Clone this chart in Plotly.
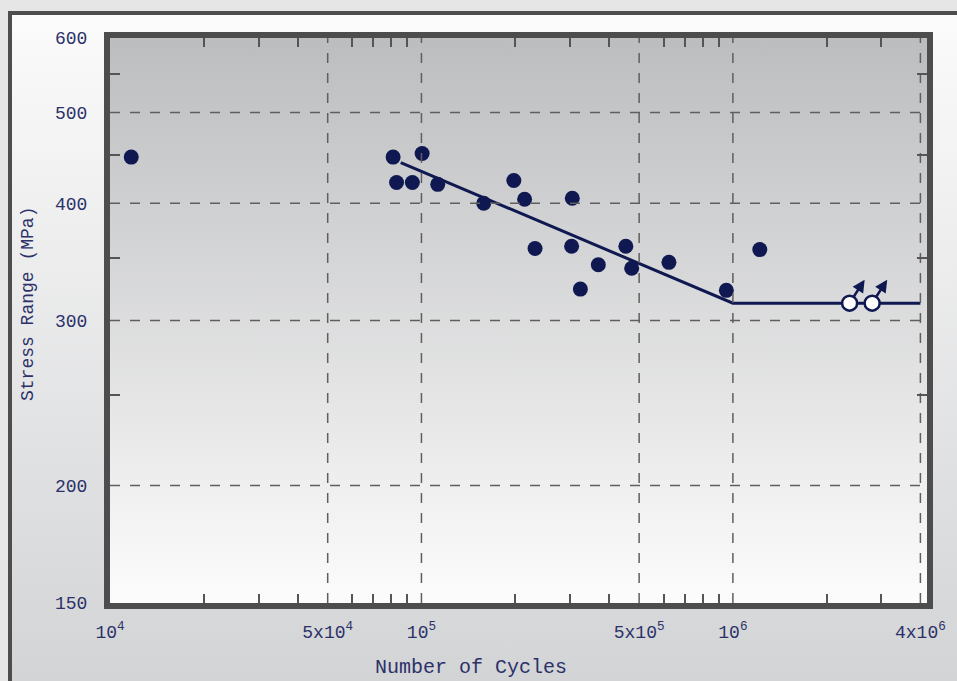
import base64
import math
import plotly.graph_objects as go

# ---- fatigue test results -------------------------------------------------
cycles = [11700, 81100, 83200, 93500, 100500, 112800, 158500, 198000, 214400,
          231600, 305000, 303500, 323800, 369700, 453200, 473200, 623200,
          952800, 1220000]
stress = [448, 448, 421, 421, 452, 419, 400, 423, 404,
          358, 405, 360, 324, 344, 360, 341, 346,
          323, 357]

# run-outs (specimens that did not fail)
runout_cycles = [2370000, 2800000]
runout_stress = [313, 313]

# design S-N curve with endurance plateau
curve_cycles = [85800, 1000000, 4000000]
curve_stress = [442, 313, 313]

# axis ticks
x_tickvals = [1e4, 5e4, 1e5, 5e5, 1e6, 4e6]
x_ticktext = ["10<sup>4</sup>", "5x10<sup>4</sup>", "10<sup>5</sup>",
              "5x10<sup>5</sup>", "10<sup>6</sup>", "4x10<sup>6</sup>"]
x_minor = [2e4, 3e4, 4e4, 6e4, 7e4, 8e4, 9e4, 2e5, 3e5, 4e5, 6e5, 7e5, 8e5,
           9e5, 2e6, 3e6]
x_grid = [5e4, 1e5, 5e5, 1e6, 4e6]
y_tickvals = [150, 200, 300, 400, 500, 600]
y_minor = [250, 350, 450, 550]
y_grid = [200, 300, 400, 500]

X_MIN, X_MAX = 1e4, 4.2e6
Y_MIN, Y_MAX = 149.9, 600.2

NAVY = "#0f1850"
TEXT = "#2b3169"
FRAME = "#4d4d4d"
FONT = "Liberation Mono"

W, H = 957, 681
L, R, T, B = 110, 30, 38, 78
PW, PH = W - L - R, H - T - B


def px_x(px):
    return (px - L) / PW


def px_y(py):
    return (H - B - py) / PH


def gradient_uri(top, bottom):
    svg = ('<svg xmlns="http://www.w3.org/2000/svg" width="100" height="100" '
           'preserveAspectRatio="none"><defs><linearGradient id="g" x1="0" '
           'y1="0" x2="0" y2="1"><stop offset="0" stop-color="%s"/>'
           '<stop offset="1" stop-color="%s"/></linearGradient></defs>'
           '<rect width="100" height="100" fill="url(#g)"/></svg>') % (top, bottom)
    return "data:image/svg+xml;base64," + base64.b64encode(svg.encode()).decode()


fig = go.Figure()

fig.add_trace(go.Scatter(
    x=curve_cycles, y=curve_stress, mode="lines",
    line=dict(color=NAVY, width=3), hoverinfo="skip", showlegend=False))

fig.add_trace(go.Scatter(
    x=cycles, y=stress, mode="markers",
    marker=dict(color=NAVY, size=15, line=dict(width=0)),
    showlegend=False))

fig.add_trace(go.Scatter(
    x=runout_cycles, y=runout_stress, mode="markers",
    marker=dict(color="white", size=15, line=dict(color=NAVY, width=2.5)),
    showlegend=False))

# dashed grid drawn over the data
for gx in x_grid:
    fig.add_trace(go.Scatter(
        x=[gx, gx], y=[Y_MIN, Y_MAX], mode="lines",
        line=dict(color="#5f5f5f", width=1.5, dash="10px,10px"),
        hoverinfo="skip", showlegend=False))
for gy in y_grid:
    fig.add_trace(go.Scatter(
        x=[X_MIN, X_MAX], y=[gy, gy], mode="lines",
        line=dict(color="#5f5f5f", width=1.5, dash="10px,10px"),
        hoverinfo="skip", showlegend=False))

# run-out arrows pointing away from each open marker
for rx, ry in zip(runout_cycles, runout_stress):
    fig.add_annotation(
        x=math.log10(rx), y=math.log10(ry), xref="x", yref="y",
        text="", showarrow=True, ax=16, ay=-25, axref="pixel", ayref="pixel",
        arrowside="start", startarrowhead=2, startarrowsize=1.0,
        arrowwidth=2.5, arrowcolor=NAVY, standoff=7)

axis_common = dict(
    type="log", showgrid=False, zeroline=False, ticks="",
    showline=True, linewidth=6, linecolor=FRAME, mirror="allticks",
    tickfont=dict(family=FONT, size=18, color=TEXT),
)

fig.update_xaxes(
    **axis_common,
    range=[math.log10(X_MIN), math.log10(X_MAX)],
    tickmode="array", tickvals=x_tickvals, ticktext=x_ticktext,
    ticklabelstandoff=7,
    minor=dict(tickmode="array", tickvals=x_minor, ticks="inside",
               ticklen=9, tickwidth=2, tickcolor="#555555", showgrid=False),
)
fig.update_yaxes(
    **axis_common,
    range=[math.log10(Y_MIN), math.log10(Y_MAX)],
    tickmode="array", tickvals=y_tickvals,
    ticktext=[str(v) for v in y_tickvals],
    ticklabelstandoff=13,
    minor=dict(tickmode="array", tickvals=y_minor, ticks="inside",
               ticklen=10, tickwidth=2, tickcolor="#555555", showgrid=False),
)

# outer panel and plot-area shading
fig.add_layout_image(
    source=gradient_uri("#fbfbfb", "#d3d4d6"), xref="paper", yref="paper",
    x=px_x(10), y=px_y(13), sizex=(1000 - 10) / PW, sizey=(H - 13) / PH,
    xanchor="left", yanchor="top", sizing="stretch", layer="below")
fig.add_layout_image(
    source=gradient_uri("#bcbdbf", "#fcfcfc"), xref="paper", yref="paper",
    x=0, y=1, sizex=1, sizey=1, xanchor="left", yanchor="top",
    sizing="stretch", layer="below")
fig.add_shape(
    type="rect", xref="paper", yref="paper",
    x0=px_x(10), x1=px_x(1000), y0=px_y(13), y1=px_y(H + 40),
    line=dict(color=FRAME, width=4), fillcolor="rgba(0,0,0,0)", layer="below")

fig.add_annotation(
    text="Number of Cycles", xref="paper", yref="paper",
    x=px_x(471), y=px_y(667), xanchor="center", yanchor="middle",
    showarrow=False, font=dict(family=FONT, size=20, color=TEXT))
fig.add_annotation(
    text="Stress Range (MPa)", xref="paper", yref="paper",
    x=px_x(28), y=px_y(304), xanchor="center", yanchor="middle",
    showarrow=False, textangle=-90,
    font=dict(family=FONT, size=18, color=TEXT))

fig.update_layout(
    width=W, height=H, autosize=False,
    margin=dict(l=L, r=R, t=T, b=B),
    paper_bgcolor="#e6e6e6", plot_bgcolor="rgba(0,0,0,0)",
    showlegend=False,
)

fig.write_html("out.html")
